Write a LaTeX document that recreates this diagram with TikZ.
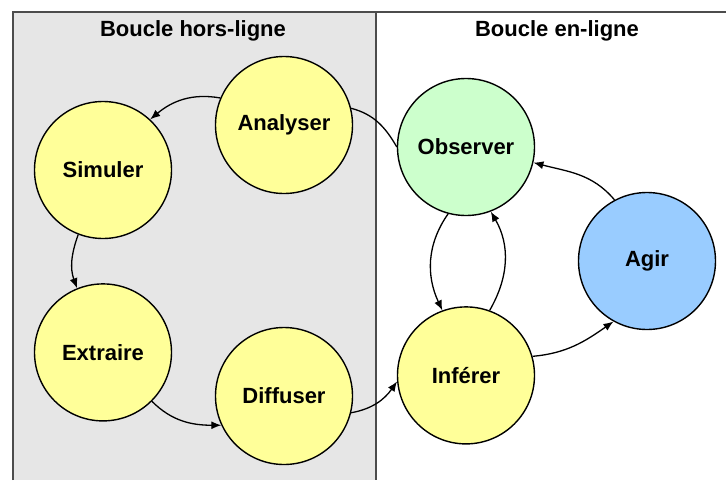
\documentclass[tikz,border=0pt]{standalone}
\usepackage{fontspec}
\setmainfont{Liberation Sans}
\usepackage{tikz}
\usetikzlibrary{arrows.meta,calc,positioning}
\definecolor{panelgray}{RGB}{230,230,230}
\definecolor{paleyellow}{RGB}{255,255,153}
\definecolor{palegreen}{RGB}{204,255,204}
\definecolor{paleblue}{RGB}{153,204,255}
\tikzset{
        state/.style = {draw, circle, line width=1.4pt,
            minimum size=137pt, inner sep=0pt,
            font=\bfseries\fontsize{22}{26}\selectfont},
        title/.style = {font=\bfseries\fontsize{22}{26}\selectfont},
        arrow/.style = {draw, line width=1.3pt, -{Latex[length=10pt,width=8pt]}},
        link/.style = {draw, line width=1.3pt},
        frame/.style = {draw=black!70, line width=1.5pt},
    }
\begin{document}
\begin{tikzpicture}[x=1pt,y=-1pt]
    \useasboundingbox (0,0) rectangle (726,480);
    \fill[panelgray] (13,12) rectangle (376,480);
    \draw[frame] (13,480) -- (13,12) -- (726,12);
    \draw[frame] (376,12) -- (376,480);

    \node[title] (offtitle) at (193,31) {Boucle hors-ligne};
    \node[title] (ontitle) at (557,31) {Boucle en-ligne};

    \node[state, fill=paleyellow] (ana) at (284,125) {Analyser};
    \node[state, fill=paleyellow] (sim) at (103,170) {Simuler};
    \node[state, fill=paleyellow, below=44pt of sim] (ext) {Extraire};
    \node[state, fill=paleyellow] (dif) at (284,396) {Diffuser};
    \node[state, fill=palegreen] (obs) at (466,147) {Observer};
    \node[state, fill=paleyellow, below=90pt of obs] (inf) {Inférer};
    \node[state, fill=paleblue] (agi) at (647,261) {Agir};

    \draw[arrow] (ana.157) to[out=170,in=40] (sim.47);
    \draw[arrow] (sim.249) to[out=-110,in=110] (ext.112);
    \draw[arrow] (ext.-45) to[out=-45,in=180] (dif.205);
    \draw[arrow] (dif.-14) to[out=10,in=235] (inf.185);
    \draw[link] (ana.14) to[out=-15,in=120] (obs.180);
    \draw[arrow] (obs.255) to[out=235,in=115] (inf.110);
    \draw[arrow] (inf.70) to[out=60,in=-60] (obs.291);
    \draw[arrow] (inf.16) to[out=5,in=215] (agi.241);
    \draw[arrow] (agi.118) to[out=130,in=-15] (obs.-13);
\end{tikzpicture}
\end{document}
